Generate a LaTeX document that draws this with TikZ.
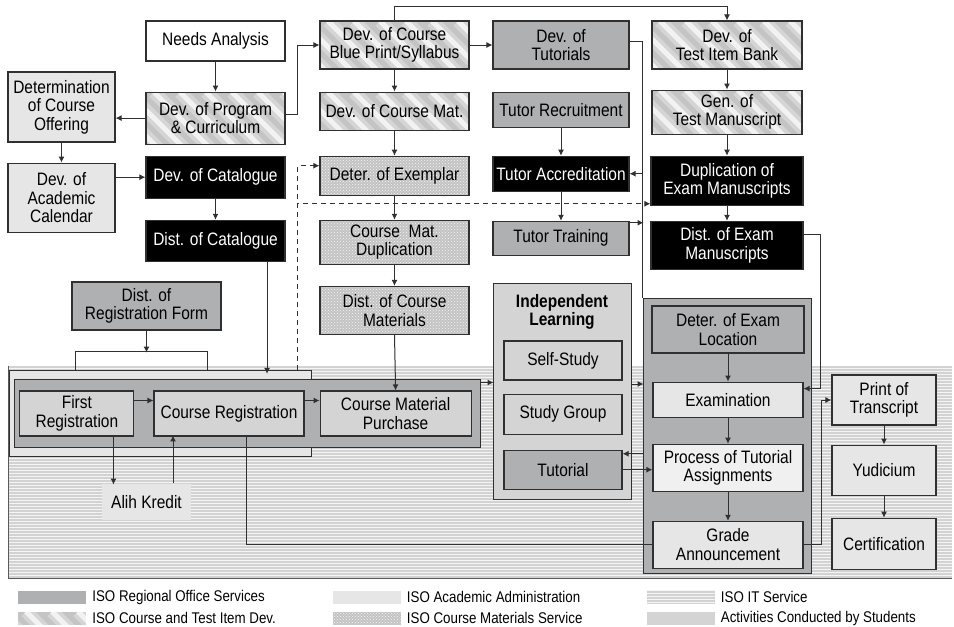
\documentclass[tikz,border=0pt]{standalone}
\usepackage{fontspec}
\setmainfont{Liberation Sans}[FakeStretch=0.86]
\usetikzlibrary{arrows.meta,positioning,patterns}
\definecolor{LineDark}{HTML}{303030}
\definecolor{RegionalGray}{HTML}{AEB0B2}
\definecolor{AcadGray}{HTML}{E6E6E6}
\definecolor{StudentGray}{HTML}{D4D4D4}
\definecolor{ITGray}{HTML}{D2D2D2}
\definecolor{MatGray}{HTML}{C3C3C3}
\definecolor{StripeGray}{HTML}{C4C4C4}

\begin{document}
\begin{tikzpicture}[x=1pt,y=-1pt,
    wh/.style 2 args={minimum width=#1pt,minimum height=#2pt},
    box/.style={draw=LineDark,line width=1.1pt,align=center,inner sep=1pt,
      font=\fontsize{18}{18.5}\selectfont},
    plainbox/.style={box,fill=white},
    regbox/.style={box,fill=RegionalGray},
    acadbox/.style={box,fill=AcadGray},
    studbox/.style={box,fill=StudentGray},
    blackbox/.style={box,fill=black,text=white},
    stripes/.style={path picture={
        \foreach \s in {-70,-44,...,190} {
          \draw[white,line width=13pt,opacity=.3]
            ([xshift=\s pt]path picture bounding box.north west) -- ++(64,64);
          \draw[white,line width=5pt,opacity=.7]
            ([xshift=\s pt]path picture bounding box.north west) -- ++(64,64);
        }}},
    stripebox/.style={box,fill=StripeGray,stripes},
    matfill/.style={preaction={fill=MatGray},pattern=crosshatch dots,
      pattern color=white!85!MatGray},
    matbox/.style={box,matfill},
    itfill/.style={preaction={fill=ITGray},pattern=horizontal lines,
      pattern color=white!75!ITGray},
    grpbox/.style={draw=LineDark,line width=1pt,inner sep=0pt},
    link/.style={draw=LineDark,line width=1pt},
    arrow/.style={link,-{Latex[length=6pt,width=6pt]}},
    dasharrow/.style={arrow,dash pattern=on 5pt off 4pt},
    keyswatch/.style={inner sep=0pt,minimum width=68pt,minimum height=13pt},
    keytext/.style={inner sep=0pt,font=\fontsize{15.5}{16}\selectfont}
  ]
    \useasboundingbox (0,0) rectangle (954,627);
    \fill[white] (0,0) rectangle (954,627);

    % IT service area
    \path[itfill] (8,366) rectangle (952,578);
    \draw[LineDark!80,line width=0.8pt] (8,366) -- (8,578) -- (952,578);

    % groups
    \node[grpbox,fill=AcadGray,wh={302}{86}] (regout) at (160,413) {};
    \node[grpbox,fill=RegionalGray,wh={466}{68}] (regin) at (247,413) {};
    \node[grpbox,fill=StudentGray,wh={138}{216}] (ilgrp) at (562,391) {};
    \node[grpbox,fill=RegionalGray,wh={168}{275}] (examgrp) at (727,435.5) {};

    % academic column
    \node[plainbox,wh={139}{40}] (needs) at (215.5,41) {Needs Analysis};
    \node[stripebox,wh={139}{52},below=30pt of needs] (program) {Dev. of Program\\\& Curriculum};
    \node[blackbox,wh={139}{42},below=11pt of program] (catalogue) {Dev. of Catalogue};
    \node[blackbox,wh={139}{41},below=21pt of catalogue] (distcat) {Dist. of Catalogue};
    \node[acadbox,wh={107}{70}] (offering) at (61.5,107) {Determination\\of Course\\Offering};
    \node[acadbox,wh={107}{69},below=20pt of offering] (calendar) {Dev. of\\Academic\\Calendar};
    \node[regbox,wh={149}{48}] (distreg) at (146.5,306) {Dist. of\\Registration Form};

    % course materials column
    \node[stripebox,wh={149}{48}] (blueprint) at (394.5,45) {Dev. of Course\\Blue Print/Syllabus};
    \node[stripebox,wh={149}{38},below=22pt of blueprint] (coursemat) {Dev. of Course Mat.};
    \node[matbox,wh={149}{39},below=25pt of coursemat] (exemplar) {Deter. of Exemplar};
    \node[matbox,wh={149}{44},below=24pt of exemplar] (cmdup) {Course~~Mat.\\Duplication};
    \node[matbox,wh={149}{48},below=21pt of cmdup] (distcm) {Dist. of Course\\Materials};

    % tutor column
    \node[regbox,wh={136}{48}] (tutorials) at (561,45) {Dev. of\\Tutorials};
    \node[regbox,wh={136}{35},below=22pt of tutorials] (recruit) {Tutor Recruitment};
    \node[blackbox,wh={136}{35},below=28pt of recruit] (accred) {Tutor Accreditation};
    \node[regbox,wh={136}{34},below=29pt of accred] (training) {Tutor Training};

    % test column
    \node[stripebox,wh={150}{48}] (testbank) at (727,45) {Dev. of\\Test Item Bank};
    \node[stripebox,wh={150}{44},below=20pt of testbank] (gentest) {Gen. of\\Test Manuscript};
    \node[blackbox,wh={152}{49},below=21pt of gentest] (dupexam) {Duplication of\\Exam Manuscripts};
    \node[blackbox,wh={152}{48},below=15pt of dupexam] (distexam) {Dist. of Exam\\Manuscripts};

    % examination group
    \node[regbox,wh={152}{47}] (examloc) at (728,329.5) {Deter. of Exam\\Location};
    \node[acadbox,wh={150}{35},below=28pt of examloc] (examination) {Examination};
    \node[acadbox,fill=AcadGray!60,wh={150}{47},below=26pt of examination] (process) {Process of Tutorial\\Assignments};
    \node[acadbox,wh={150}{47},below=29pt of process] (grade) {Grade\\Announcement};

    \node[acadbox,wh={104}{50}] (print) at (884,400) {Print of\\Transcript};
    \node[acadbox,wh={104}{50},below=19pt of print] (yudicium) {Yudicium};
    \node[acadbox,wh={104}{51},below=22pt of yudicium] (certif) {Certification};

    % independent learning
    \node[align=center,inner sep=0pt,font=\fontsize{18}{18.5}\selectfont\bfseries] (iltitle) at (562,312) {Independent\\Learning};
    \node[studbox,wh={118}{39}] (selfstudy) at (563,360.5) {Self-Study};
    \node[studbox,wh={118}{40},below=13pt of selfstudy] (studygroup) {Study Group};
    \node[regbox,wh={118}{39},below=15pt of studygroup] (tutorial) {Tutorial};

    % registration
    \node[studbox,wh={150}{45}] (coursereg) at (229,413.5) {Course Registration};
    \node[studbox,wh={114}{45},left=19pt of coursereg] (firstreg) {First\\Registration};
    \node[studbox,wh={151}{45},right=15pt of coursereg] (purchase) {Course Material\\Purchase};
    \node[acadbox,draw=none,wh={89}{36}] (alih) at (146.5,502) {Alih Kredit};

    % connectors
    \draw[arrow] (needs) -- (program);
    \draw[arrow] (program.west) -- (program.west -| offering.east);
    \draw[arrow] (offering) -- (calendar);
    \draw[arrow] (calendar.east |- catalogue.west) -- (catalogue.west);
    \draw[arrow] (catalogue) -- (distcat);
    \draw[arrow] ([xshift=-18.5pt]distcat.south east) -- ++(0,112);
    \draw[arrow] (distreg.south) -- ++(0,22);
    \draw[link] ([xshift=67pt]regout.north west) -- ++(0,-18) -| ([xshift=199pt]regout.north west);
    \draw[arrow] ([yshift=4pt]program.east) -- ++(12,0) |- (blueprint.west);
    \draw[arrow] (blueprint) -- (tutorials);
    \draw[arrow] (blueprint.north) -- ++(0,-14) -| (testbank.north);
    \draw[arrow] (blueprint) -- (coursemat);
    \draw[arrow] (coursemat) -- (exemplar);
    \draw[arrow] (exemplar) -- (cmdup);
    \draw[arrow] (cmdup) -- (distcm);
    \draw[arrow] (distcm.south) -- (purchase.north);
    \draw[dasharrow] ([xshift=-14pt]regout.north east) |- ([yshift=10pt]exemplar.west);
    \draw[dasharrow] ([xshift=-14pt]regout.north east) |- ([yshift=2pt]dupexam.south west);
    \draw[link] ([yshift=4pt]tutorials.east) -| (examgrp.north west);
    \draw[arrow] (recruit) -- (accred);
    \draw[arrow] (accred) -- (training);
    \draw[arrow] (accred.east -| examgrp.west) -- (accred.east);
    \draw[arrow] ([yshift=-2pt]training.north east) -- ++(14,0);
    \draw[arrow] (testbank) -- (gentest);
    \draw[arrow] (gentest) -- (dupexam);
    \draw[arrow] (dupexam) -- (distexam);
    \draw[arrow] ([yshift=11pt]distexam.east) -- ++(17,0) |- ([yshift=11pt]examination.east);
    \draw[arrow] (examloc) -- (examination);
    \draw[arrow] (examination) -- (process);
    \draw[arrow] (process) -- (grade);
    \draw[arrow] (grade.east) -- ++(18,0) |- (print.west);
    \draw[arrow] (print) -- (yudicium);
    \draw[arrow] (yudicium) -- (certif);
    \draw[arrow] ([yshift=7pt]ilgrp.east) -- ++(12,0);
    \draw[arrow] (tutorial.15 -| examgrp.west) -- (tutorial.15);
    \draw[arrow] (tutorial.east) -- (tutorial.east -| process.west);
    \draw[arrow] ([yshift=-4pt]regin.north east) -- ++(13,0);
    \draw[arrow] ([yshift=13pt]firstreg.east) -- ([yshift=13pt]coursereg.west);
    \draw[arrow] ([yshift=13pt]coursereg.east) -- ([yshift=13pt]purchase.west);
    \draw[arrow] ([xshift=-21pt]firstreg.south east) -- ++(0,48);
    \draw[arrow] ([xshift=26.5pt]alih.north) -- ++(0,-48);
    \draw[link] ([xshift=17pt]coursereg.south) |- (grade.west);

    % legend
    \node[keyswatch,fill=RegionalGray] (keyreg) at (52,597) {};
    \node[keytext,right=6pt of keyreg] (keyregtext) {ISO Regional Office Services};
    \node[keyswatch,fill=AcadGray] (keyacad) at (366.5,597) {};
    \node[keytext,right=6pt of keyacad] (keyacadtext) {ISO Academic Administration};
    \node[keyswatch,itfill] (keyit) at (680.5,597) {};
    \node[keytext,right=6pt of keyit] (keyittext) {ISO IT Service};
    \node[keyswatch,fill=StripeGray,stripes] (keytest) at (52,618) {};
    \node[keytext,right=6pt of keytest] (keytesttext) {ISO Course and Test Item Dev.};
    \node[keyswatch,matfill] (keymat) at (366.5,618) {};
    \node[keytext,right=6pt of keymat] (keymattext) {ISO Course Materials Service};
    \node[keyswatch,fill=StudentGray] (keystud) at (680.5,618) {};
    \node[keytext,right=6pt of keystud] (keystudtext) {Activities Conducted by Students};
  \end{tikzpicture}
\end{document}
